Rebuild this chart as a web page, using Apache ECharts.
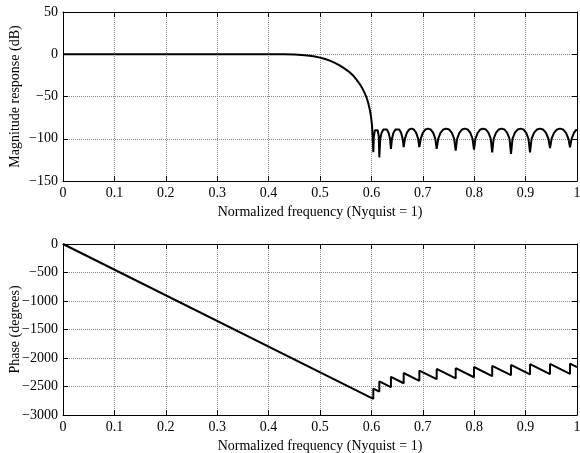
<!DOCTYPE html>
<html>
<head>
<meta charset="utf-8">
<script src="https://cdn.jsdelivr.net/npm/echarts@6/dist/echarts.min.js"></script>
<style>
  html, body { margin: 0; padding: 0; background: #fff; }
  #chart { width: 580px; height: 453px; }
</style>
</head>
<body>
<div id="chart"></div>
<script>
// Magnitude response of the FIR lowpass (frequency normalized to Nyquist)
const magFreq = [
  0, 0.40, 0.43, 0.45, 0.465, 0.48, 0.49, 0.50, 0.51, 0.519, 0.529, 0.539, 0.548, 0.558, 0.565,
  0.571, 0.577, 0.582, 0.587, 0.591, 0.594, 0.597, 0.599, 0.6010, 0.6025,
  0.6037, 0.6048, 0.6068, 0.6095, 0.6122, 0.6143,
  0.6154, 0.6172, 0.6199, 0.6233, 0.6267, 0.6301, 0.6335, 0.6362,
  0.638, 0.6400, 0.6430, 0.6467, 0.6504, 0.6541, 0.6578, 0.6608,
  0.6628, 0.6652, 0.6689, 0.6735, 0.6781, 0.6826, 0.6872, 0.6909,
  0.6933, 0.6960, 0.7000, 0.7051, 0.7102, 0.7152, 0.7203, 0.7243,
  0.727, 0.7300, 0.7344, 0.7400, 0.7455, 0.7511, 0.7566, 0.7610,
  0.764, 0.7668, 0.7711, 0.7765, 0.7818, 0.7871, 0.7925, 0.7968,
  0.7996, 0.8024, 0.8067, 0.8120, 0.8173, 0.8226, 0.8279, 0.8322,
  0.835, 0.8379, 0.8423, 0.8478, 0.8533, 0.8588, 0.8643, 0.8687,
  0.8716, 0.8746, 0.8790, 0.8846, 0.8901, 0.8957, 0.9012, 0.9056,
  0.9086, 0.9117, 0.9164, 0.9222, 0.9281, 0.9339, 0.9397, 0.9444,
  0.9475, 0.9506, 0.9553, 0.9611, 0.9670, 0.9728, 0.9786, 0.9833,
  0.9864, 0.9895, 0.9940, 0.9975, 1.0
];
const magDb = [
  0, 0, -0.05, -0.3, -0.8, -1.7, -2.7, -4.0, -5.6, -7.6, -10.2, -13.4, -17, -21.5, -25.5,
  -30, -35, -40, -46, -52, -58, -66, -73, -83, -98,
  -116, -97, -90, -88, -90, -97,
  -122, -100, -93, -89, -88, -89, -93, -100,
  -112, -100, -93, -89, -88, -89, -93, -100,
  -110, -100, -93, -89, -88, -89, -93, -100,
  -110, -100, -93, -89, -88, -89, -93, -100,
  -112, -100, -93, -89, -88, -89, -93, -100,
  -114, -100, -93, -89, -88, -89, -93, -100,
  -113, -100, -93, -89, -88, -89, -93, -100,
  -116, -100, -93, -89, -88, -89, -93, -100,
  -118, -100, -93, -89, -88, -89, -93, -100,
  -116, -100, -93, -89, -88, -89, -93, -100,
  -111, -100, -93, -89, -88, -89, -93, -100,
  -110, -100, -93, -90, -89.5
];

// Phase response (degrees), with the 180-degree jumps at the stopband zeros
const phaseFreq = [
  0, 0.6037, 0.6037, 0.6154, 0.6154, 0.638, 0.638, 0.6628, 0.6628, 0.6933, 0.6933,
  0.727, 0.727, 0.764, 0.764, 0.7996, 0.7996, 0.835, 0.835, 0.8716, 0.8716,
  0.9086, 0.9086, 0.9475, 0.9475, 0.9864, 0.9864, 1.0
];
const phaseDeg = [
  0, -2717, -2537, -2589, -2409, -2511, -2331, -2443, -2263, -2400, -2220,
  -2372, -2192, -2358, -2178, -2338, -2158, -2318, -2138, -2302, -2122,
  -2289, -2109, -2284, -2104, -2279, -2099, -2160
];

// Axis tick values
const freqTicks = [0, 0.1, 0.2, 0.3, 0.4, 0.5, 0.6, 0.7, 0.8, 0.9, 1];
const magTicks = [-150, -100, -50, 0, 50];
const phaseTicks = [-3000, -2500, -2000, -1500, -1000, -500, 0];

const FONT = 'Liberation Serif';
const txt = { fontFamily: FONT, fontSize: 14, color: '#000' };
const minus = v => String(v).replace('-', '\u2212');

function xAxes(grid, top) {
  const base = {
    gridIndex: grid, type: 'value',
    min: freqTicks[0], max: freqTicks[freqTicks.length - 1],
    interval: freqTicks[1] - freqTicks[0],
    axisLine: { show: true, onZero: false, lineStyle: { color: '#000', width: 1 } },
    axisTick: { show: true, inside: true, length: 5, lineStyle: { color: '#000', width: 1 } }
  };
  if (top) {
    return Object.assign({}, base, {
      position: 'top', axisLabel: { show: false }, splitLine: { show: false }
    });
  }
  return Object.assign({}, base, {
    position: 'bottom',
    axisLabel: Object.assign({ margin: 5, formatter: v => String(+v.toFixed(1)) }, txt),
    splitLine: { show: true, lineStyle: { color: '#8a8a8a', type: 'dotted', width: 1 } },
    name: 'Normalized frequency (Nyquist = 1)',
    nameLocation: 'middle', nameGap: 24, nameMoveOverlap: false,
    nameTextStyle: txt
  });
}

function yAxes(grid, ticks, title, gap, right) {
  const base = {
    gridIndex: grid, type: 'value',
    min: ticks[0], max: ticks[ticks.length - 1], interval: ticks[1] - ticks[0],
    axisLine: { show: true, onZero: false, lineStyle: { color: '#000', width: 1 } },
    axisTick: { show: true, inside: true, length: 5, lineStyle: { color: '#000', width: 1 } }
  };
  if (right) {
    return Object.assign({}, base, {
      position: 'right', axisLabel: { show: false }, splitLine: { show: false }
    });
  }
  return Object.assign({}, base, {
    position: 'left',
    axisLabel: Object.assign({ margin: 5, formatter: minus }, txt),
    splitLine: { show: true, lineStyle: { color: '#8a8a8a', type: 'dotted', width: 1 } },
    name: title, nameLocation: 'middle', nameGap: gap, nameRotate: 90,
    nameMoveOverlap: false,
    nameTextStyle: txt
  });
}

const chart = echarts.init(document.getElementById('chart'), null, { renderer: 'canvas' });
chart.setOption({
  animation: false,
  backgroundColor: '#fff',
  grid: [
    { left: 63, right: 3, top: 12, height: 169, containLabel: false, outerBoundsMode: 'none' },
    { left: 63, right: 3, top: 244, height: 171, containLabel: false, outerBoundsMode: 'none' }
  ],
  xAxis: [xAxes(0, false), xAxes(0, true), xAxes(1, false), xAxes(1, true)],
  yAxis: [
    yAxes(0, magTicks, 'Magnitude response (dB)', 41, false),
    yAxes(0, magTicks, '', 0, true),
    yAxes(1, phaseTicks, 'Phase (degrees)', 41, false),
    yAxes(1, phaseTicks, '', 0, true)
  ],
  series: [
    {
      type: 'line', xAxisIndex: 0, yAxisIndex: 0,
      data: magFreq.map((f, i) => [f, magDb[i]]),
      showSymbol: false, symbol: 'none',
      lineStyle: { color: '#000', width: 2 }
    },
    {
      type: 'line', xAxisIndex: 2, yAxisIndex: 2,
      data: phaseFreq.map((f, i) => [f, phaseDeg[i]]),
      showSymbol: false, symbol: 'none',
      lineStyle: { color: '#000', width: 2 }
    }
  ]
});
</script>
</body>
</html>
